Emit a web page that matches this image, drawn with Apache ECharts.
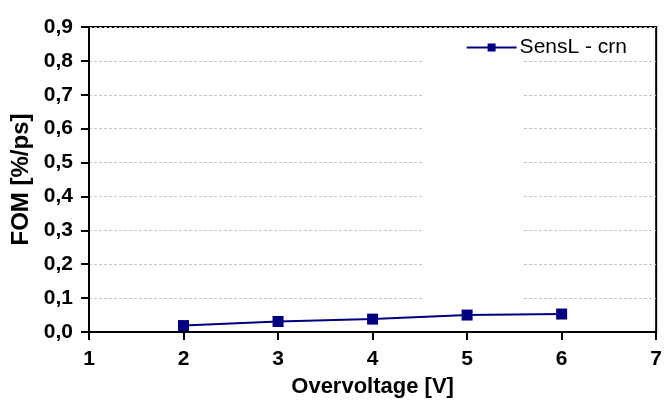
<!DOCTYPE html>
<html>
<head>
<meta charset="utf-8">
<script src="https://cdn.jsdelivr.net/npm/echarts@6/dist/echarts.min.js"></script>
<style>
  html, body { margin: 0; padding: 0; background: #fff; }
  #chart { width: 665px; height: 403px; }
</style>
</head>
<body>
<div id="chart"></div>
<script>
// data
const overvoltage = [2, 3, 4, 5, 6];
const fomValues = [0.019, 0.031, 0.038, 0.05, 0.053];
const seriesName = 'SensL - crn';

const chart = echarts.init(document.getElementById('chart'));
const font = 'Liberation Sans, Arial';
const tickFont = { fontFamily: font, fontWeight: 'bold', fontSize: 21, color: '#000' };

const option = {
  animation: false,
  grid: {
    left: 89, right: 8, top: 27, bottom: 70,
    show: true, borderColor: '#000', borderWidth: 2, backgroundColor: 'transparent'
  },
  legend: {
    top: 32, right: 33,
    itemWidth: 50, itemHeight: 10, itemGap: 4,
    textStyle: { fontFamily: font, fontSize: 21, color: '#000', padding: [0, 0, 0, -2] },
    data: [seriesName]
  },
  // blank strip over the grid lines, as in the original
  graphic: [{
    type: 'rect', z: 1,
    shape: { x: 422, y: 50, width: 101, height: 260 },
    style: { fill: '#fff' }
  }],
  xAxis: {
    type: 'value', min: 1, max: 7, interval: 1,
    name: 'Overvoltage [V]', nameLocation: 'middle', nameGap: 44,
    nameTextStyle: { fontFamily: font, fontWeight: 'bold', fontSize: 22, color: '#000' },
    axisLine: { show: true, onZero: false, lineStyle: { color: '#000', width: 2 } },
    axisTick: { show: true, length: 8, lineStyle: { color: '#000', width: 2 } },
    axisLabel: Object.assign({ margin: 17 }, tickFont),
    splitLine: { show: false }
  },
  yAxis: {
    type: 'value', min: 0, max: 0.9, interval: 0.1,
    name: 'FOM [%/ps]', nameLocation: 'middle', nameGap: 54,
    nameTextStyle: { fontFamily: font, fontWeight: 'bold', fontSize: 24, color: '#000' },
    axisLine: { show: true, lineStyle: { color: '#000', width: 2 } },
    axisTick: { show: true, length: 8, lineStyle: { color: '#000', width: 2 } },
    axisLabel: Object.assign({
      margin: 16,
      formatter: v => v.toFixed(1).replace('.', ',')
    }, tickFont),
    splitLine: { show: true, lineStyle: { color: '#c4c4c4', type: [3, 2], width: 1 } }
  },
  series: [{
    name: seriesName,
    type: 'line',
    data: overvoltage.map((x, i) => [x, fomValues[i]]),
    symbol: 'rect', symbolSize: 11,
    color: '#000080',
    lineStyle: { color: '#000080', width: 2 },
    itemStyle: { color: '#000080' },
    z: 3
  }]
};
chart.setOption(option);
</script>
</body>
</html>
